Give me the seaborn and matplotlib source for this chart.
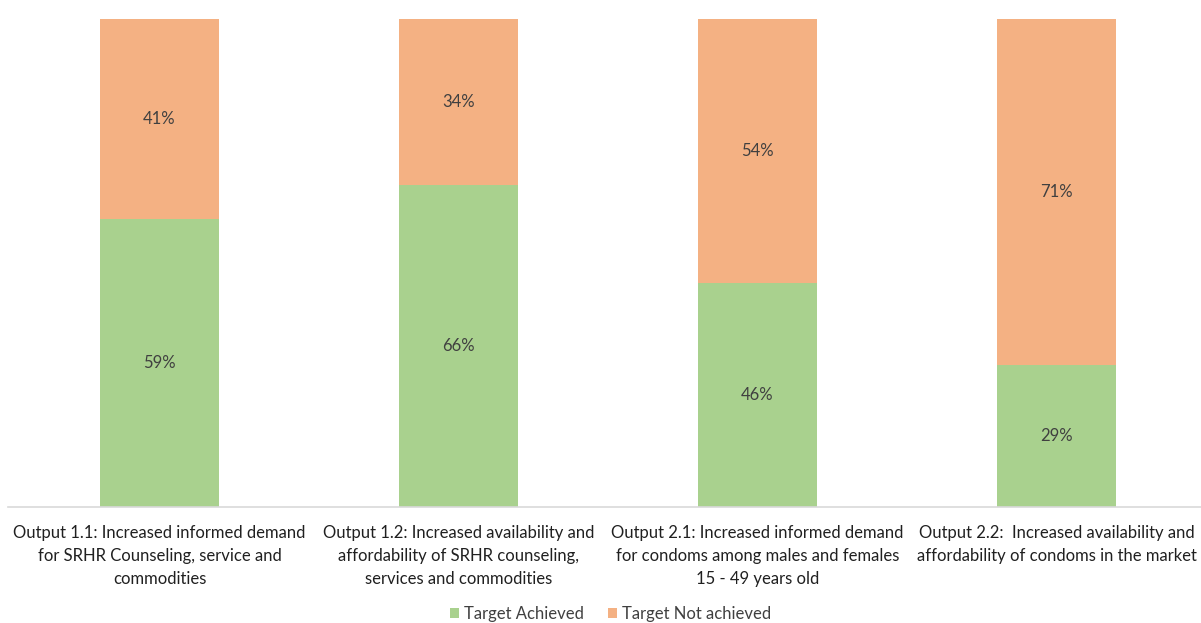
import matplotlib
matplotlib.use("Agg")
import matplotlib.pyplot as plt
import seaborn as sns
import pandas as pd
from matplotlib.patches import Patch

categories = [
    "Output 1.1: Increased informed demand\nfor SRHR Counseling, service and\ncommodities",
    "Output 1.2: Increased availability and\naffordability of SRHR counseling,\nservices and commodities",
    "Output 2.1: Increased informed demand\nfor condoms among males and females\n15 - 49 years old",
    "Output 2.2:  Increased availability and\naffordability of condoms in the market",
]
achieved = [0.59, 0.66, 0.46, 0.29]
not_achieved = [0.41, 0.34, 0.54, 0.71]
series_names = ["Target Achieved", "Target Not achieved"]

GREEN = "#A9D18E"
ORANGE = "#F4B183"
TEXT = "#404040"

sns.set_theme(style="white")
plt.rcParams["font.family"] = ["Lato", "DejaVu Sans"]

df = pd.DataFrame({
    "cat": categories,
    "achieved": achieved,
    "not_achieved": not_achieved,
})
df["total"] = df["achieved"] + df["not_achieved"]

W, H = 1201, 623
fig = plt.figure(figsize=(W / 100, H / 100), dpi=100)
ax = fig.add_axes([8 / W, (H - 507) / H, 1193 / W, 488 / H])

bw = 119 / 299
sns.barplot(data=df, x="cat", y="total", color=ORANGE, saturation=1,
            width=bw, ax=ax, linewidth=0, edgecolor="none")
sns.barplot(data=df, x="cat", y="achieved", color=GREEN, saturation=1,
            width=bw, ax=ax, linewidth=0, edgecolor="none")

xmin = -151.5 / 299
ax.set_xlim(xmin, xmin + 1193 / 299)
ax.set_ylim(0, 1)

for i, (a, n) in enumerate(zip(achieved, not_achieved)):
    ax.text(i, a / 2, f"{a:.0%}", ha="center", va="center", fontsize=12, color=TEXT)
    ax.text(i, a + n / 2, f"{n:.0%}", ha="center", va="center", fontsize=12, color=TEXT)

ax.set_xlabel("")
ax.set_ylabel("")
ax.set_yticks([])
ax.tick_params(axis="x", length=0, pad=13, labelsize=12, labelcolor="#202020")
for lbl in ax.get_xticklabels():
    lbl.set_linespacing(1.55)
for s in ["top", "left", "right"]:
    ax.spines[s].set_visible(False)
ax.spines["bottom"].set_color("#D9D9D9")
ax.spines["bottom"].set_linewidth(1.2)

handles = [Patch(facecolor=GREEN, edgecolor="none"), Patch(facecolor=ORANGE, edgecolor="none")]
fig.legend(handles, series_names, loc="center", bbox_to_anchor=(610.5 / W, 1 - 614 / H),
           ncol=2, frameon=False, fontsize=12, handlelength=0.5, handleheight=0.5,
           handletextpad=0.3, columnspacing=1.5, labelcolor=TEXT)

fig.savefig("out.png", dpi=100)
